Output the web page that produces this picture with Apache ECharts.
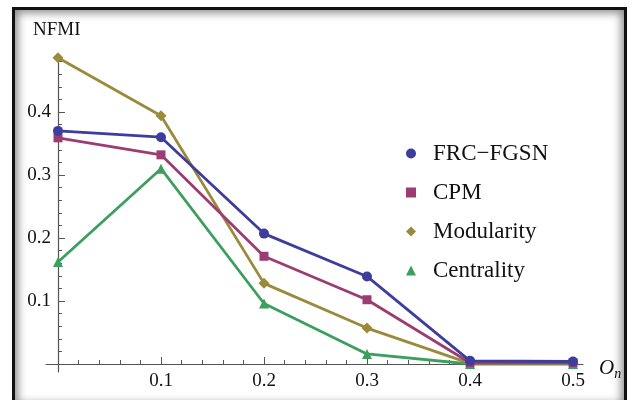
<!DOCTYPE html>
<html>
<head>
<meta charset="utf-8">
<script src="https://cdn.jsdelivr.net/npm/echarts@6/dist/echarts.min.js"></script>
<style>
  html, body { margin: 0; padding: 0; background: #fff; }
  #wrap { position: relative; width: 632px; height: 400px; overflow: hidden; }
  #chart { position: absolute; left: 0; top: 0; width: 632px; height: 400px; }
  #frame {
    position: absolute; left: 12px; top: 7px; width: 609px; height: 396px;
    border: 3px solid #111;
    box-shadow: inset 0 0 9px 3px rgba(0, 0, 0, 0.45);
    pointer-events: none;
  }
</style>
</head>
<body>
<div id="wrap">
  <div id="chart"></div>
  <div id="frame"></div>
</div>
<script>
// values
var overlap = [0, 0.1, 0.2, 0.3, 0.4, 0.5]
var frcFgsn = [0.370, 0.360, 0.207, 0.139, 0.005, 0.004]
var cpm = [0.359, 0.332, 0.171, 0.102, 0.002, 0.002]
var modularity = [0.486, 0.394, 0.128, 0.057, 0.001, 0.001]
var centrality = [0.162, 0.310, 0.096, 0.016, 0.000, 0.000]
var xTickLabels = ['0.1', '0.2', '0.3', '0.4', '0.5']
var yTickLabels = ['0.1', '0.2', '0.3', '0.4']

var seriesNames = ['FRC−FGSN', 'CPM', 'Modularity', 'Centrality']
var seriesColors = ['#3d3d9e', '#9b3d72', '#9a8a3c', '#3c9f5e']
var seriesSymbols = ['circle', 'rect', 'diamond', 'triangle']
var symbolSizes = [10, 9, 11, 10]
var seriesValues = [frcFgsn, cpm, modularity, centrality]

// pixel frame of the plot: origin and pixels per unit
var X0 = 58, XS = 1030, Y0 = 364, YS = 630
var fontFamily = '"Liberation Serif", "DejaVu Serif", serif'
var axisColor = '#555'
var tickFont = 19

function pair(xs, ys) {
  return xs.map(function (x, i) { return [x, ys[i]] })
}

function fmt(list) {
  return function (v) {
    var s = (Math.round(v * 10) / 10).toFixed(1)
    return list.indexOf(s) >= 0 && Math.abs(v - parseFloat(s)) < 1e-6 ? s : ''
  }
}

var hidden = { show: false }

var chart = echarts.init(document.getElementById('chart'))
var option = {
  animation: false,
  textStyle: { fontFamily: fontFamily },
  title: {
    text: 'NFMI',
    left: 33,
    top: 21,
    padding: 0,
    textStyle: { fontFamily: fontFamily, fontSize: 19, fontWeight: 'normal', color: '#111' }
  },
  legend: {
    orient: 'vertical',
    left: 401,
    top: 137,
    itemWidth: 10,
    itemHeight: 10,
    itemGap: 16,
    textStyle: { fontFamily: fontFamily, fontSize: 23, color: '#111', padding: [0, 0, 0, 12] },
    data: seriesNames.map(function (n, i) { return { name: n, icon: seriesSymbols[i] } })
  },
  grid: [
    // data grid, also carries the x ticks
    { left: X0, top: Y0 - 0.5 * YS, width: 0.5 * XS, height: 0.5 * YS },
    // y major ticks 0 .. 0.4
    { left: X0, top: Y0 - 0.4 * YS, width: 0.5 * XS, height: 0.4 * YS },
    // y minor ticks above 0.4
    { left: X0, top: Y0 - 0.48 * YS, width: 0.5 * XS, height: 0.08 * YS },
    // axis lines
    { left: 46, top: 55, width: 583 - 46, height: 372 - 55 }
  ],
  xAxis: [
    {
      gridIndex: 0, type: 'value', min: 0, max: 0.5, interval: 0.1,
      axisLine: hidden, splitLine: hidden,
      axisTick: { show: true, inside: true, length: 7, lineStyle: { color: axisColor } },
      minorTick: { show: true, splitNumber: 5, length: 4, lineStyle: { color: axisColor } },
      axisLabel: { margin: 8, fontSize: tickFont, color: '#111', fontFamily: fontFamily, formatter: fmt(xTickLabels) }
    },
    { gridIndex: 1, type: 'value', min: 0, max: 0.5, show: false },
    { gridIndex: 2, type: 'value', min: 0, max: 0.5, show: false },
    {
      gridIndex: 3, type: 'value', min: (46 - X0) / XS, max: (583 - X0) / XS,
      axisLine: { onZero: true, lineStyle: { color: axisColor, width: 1.2 } },
      axisTick: hidden, axisLabel: hidden, splitLine: hidden,
      name: '{o|O}{n|n}',
      nameLocation: 'end',
      nameGap: 16,
      nameTextStyle: {
        padding: [8, 0, 0, 0],
        rich: {
          o: { fontFamily: fontFamily, fontStyle: 'italic', fontSize: 21, color: '#111' },
          n: { fontFamily: fontFamily, fontStyle: 'italic', fontSize: 14, color: '#111', verticalAlign: 'bottom', padding: [12, 0, 0, 0] }
        }
      }
    }
  ],
  yAxis: [
    { gridIndex: 0, type: 'value', min: 0, max: 0.5, show: false },
    {
      gridIndex: 1, type: 'value', min: 0, max: 0.4, interval: 0.1,
      axisLine: hidden, splitLine: hidden,
      axisTick: { show: true, inside: true, length: 7, lineStyle: { color: axisColor } },
      minorTick: { show: true, splitNumber: 5, length: 4, lineStyle: { color: axisColor } },
      axisLabel: { margin: 7, fontSize: tickFont, color: '#111', fontFamily: fontFamily, formatter: fmt(yTickLabels) }
    },
    {
      gridIndex: 2, type: 'value', min: 0.4, max: 0.48, interval: 0.02,
      axisLine: hidden, splitLine: hidden, axisLabel: hidden,
      axisTick: { show: true, inside: true, length: 4, lineStyle: { color: axisColor } }
    },
    {
      gridIndex: 3, type: 'value', min: (Y0 - 372) / YS, max: (Y0 - 55) / YS,
      axisLine: { onZero: true, lineStyle: { color: axisColor, width: 1.2 } },
      axisTick: hidden, axisLabel: hidden, splitLine: hidden
    }
  ],
  series: seriesNames.map(function (n, i) {
    return {
      name: n,
      type: 'line',
      xAxisIndex: 0,
      yAxisIndex: 0,
      clip: false,
      symbol: seriesSymbols[i],
      symbolSize: symbolSizes[i],
      showAllSymbol: true,
      color: seriesColors[i],
      lineStyle: { width: 2.8, color: seriesColors[i] },
      itemStyle: { color: seriesColors[i] },
      z: 10 - i,
      data: pair(overlap, seriesValues[i])
    }
  })
}
chart.setOption(option)
</script>
</body>
</html>
